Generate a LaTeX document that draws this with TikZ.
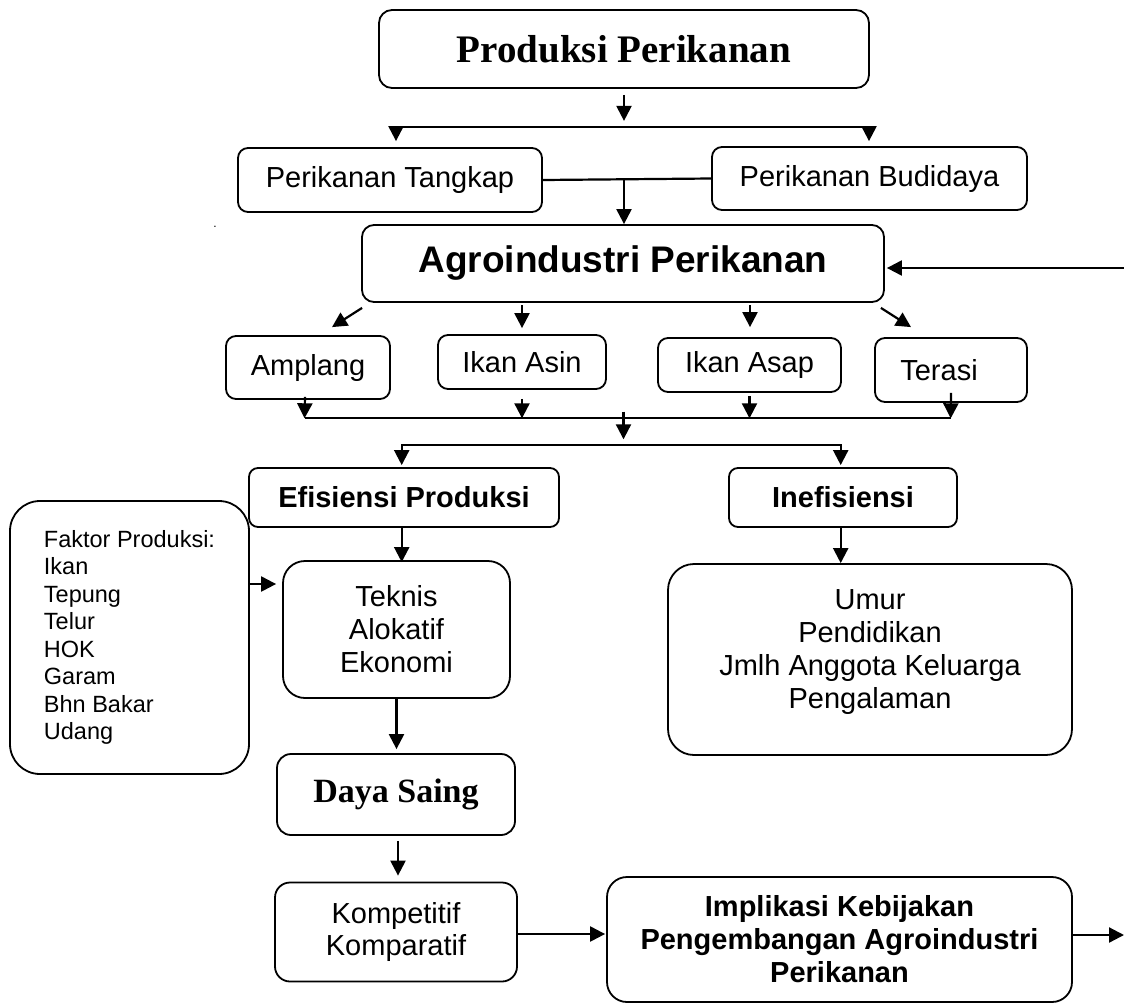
\documentclass[tikz,border=0pt]{standalone}
\usepackage{fontspec}
\setmainfont{Liberation Sans}
\newfontfamily\titlefont{Liberation Serif}
\usetikzlibrary{arrows.meta,calc}
\begin{document}
\begin{tikzpicture}[x=1pt,y=-1pt,
  box/.style={draw, line width=1.8pt, rounded corners=#1, inner sep=0pt, align=center,
    font=\fontsize{29}{33}\selectfont},
  box/.default=10pt,
  bbox/.style={box=#1, font=\fontsize{29}{33}\selectfont\bfseries},
  bbox/.default=10pt,
  tbox/.style={box=#1, font=\titlefont\fontsize{39}{44}\selectfont\bfseries},
  arr/.style={line width=2.2pt, -{Triangle[length=15pt,width=15pt]}},
  dbl/.style={line width=2.2pt, {Triangle[length=15pt,width=15pt]}-{Triangle[length=15pt,width=15pt]}},
  ln/.style={line width=2.2pt}]
\path[use as bounding box] (0,0) rectangle (1124,1004);

% ---- nodes ----
\node[tbox=13pt, minimum width=490pt, minimum height=78pt] (pp) at (624,49) {Produksi Perikanan};
\node[box, minimum width=304pt, minimum height=64pt] (pt) at (390,180) {Perikanan Tangkap};
\node[box, minimum width=315pt, minimum height=63pt] (pb) at (869.5,178.5) {Perikanan Budidaya};
\node[bbox=12pt, minimum width=522pt, minimum height=77pt, font=\fontsize{37}{40}\selectfont\bfseries] (agro) at (623,263.5) {Agroindustri Perikanan};
\node[font=\fontsize{12}{12}\selectfont, inner sep=0pt] (dot) at (215,227) {.};

\node[box, minimum width=164pt, minimum height=63pt] (amp) at (308,367.5) {Amplang};
\node[box, minimum width=168pt, minimum height=54pt] (ai) at (522,362) {Ikan Asin};
\node[box, minimum width=183pt, minimum height=54pt] (ias) at (749.5,365) {Ikan Asap};
\node[box, minimum width=152pt, minimum height=64pt] (ter) at (951,370) {\hspace*{-24pt}Terasi};

\node[bbox=9pt, minimum width=310pt, minimum height=59pt] (eff) at (404,497.5) {Efisiensi Produksi};
\node[bbox=9pt, minimum width=228pt, minimum height=59pt] (ineff) at (843,497.5) {Inefisiensi};

\node[box=30pt, minimum width=239pt, minimum height=273pt, align=left,
  font=\fontsize{23.5}{27.5}\selectfont] (fak) at (129.5,637.5)
  {Faktor Produksi:\\Ikan\\Tepung\\Telur\\HOK\\Garam\\Bhn Bakar\\Udang};
\node[box=22pt, minimum width=227pt, minimum height=137pt] (tek) at (396.5,629.5) {Teknis\\Alokatif\\Ekonomi};
\node[box=26pt, minimum width=404pt, minimum height=191pt] (umur) at (870,659.5)
  {Umur\\Pendidikan\\Jmlh Anggota Keluarga\\Pengalaman\\[-13pt]\mbox{}};

\node[tbox=14pt, minimum width=238pt, minimum height=81pt, font=\titlefont\fontsize{34}{38}\selectfont\bfseries] (ds) at (396,794.5) {Daya Saing};
\node[box=15pt, minimum width=242pt, minimum height=99pt, font=\fontsize{29}{32}\selectfont] (komp) at (396,932) {Kompetitif\\Komparatif};
\node[bbox=20pt, minimum width=465pt, minimum height=125pt] (impl) at (839.5,939.5)
  {Implikasi Kebijakan\\Pengembangan Agroindustri\\Perikanan};

% ---- coordinates ----
\coordinate (s1l) at (396,126.7);
\coordinate (s1r) at (869,126.7);
\coordinate (m1) at (624,179);
\coordinate (mL) at (304.5,418.3);
\coordinate (mR) at (950.7,418.3);
\coordinate (m2) at (623.5,411.7);
\coordinate (s2l) at (401.7,445);
\coordinate (s2r) at (840.7,445);
\coordinate (fk) at (249.3,584);
\coordinate (in) at (1124,268);
\coordinate (out) at (1124,935);

% ---- connectors ----
\draw[arr] ([yshift=-6pt]pp.south) -- ($(pp.south)+(0,32)$);
\draw[dbl] ($(s1l |- pt.north)+(0,-6)$) -- (s1l) -- (s1r) -- ($(s1r |- pb.north)+(0,-5)$);
\draw[ln] (pt.east) -- (pb.west);
\draw[arr] (m1) -- (m1 |- agro.north);
\draw[arr] (in) -- ($(agro.east |- in)+(2,0)$);

\draw[arr] ($(agro.south west)+(1,5)$) -- ($(amp.north)+(24,-8)$);
\draw[arr] ($(ai.north)+(0,-29)$) -- ($(ai.north)+(0,-6)$);
\draw[arr] ($(ias.north)+(0.5,-32)$) -- ($(ias.north)+(0.5,-10)$);
\draw[arr] ($(agro.south east)+(-4,5)$) -- ($(ter.north)+(-40,-10)$);

\draw[ln] (mL) -- (mR);
\draw[arr] ($(amp.south)+(-3,-3)$) -- (mL);
\draw[arr] ($(ai.south)+(0,9)$) -- (ai.south |- mL);
\draw[arr] ($(ias.south)+(0,3)$) -- (ias.south |- mL);
\draw[arr] ($(ter.south)+(0,-10)$) -- (mR);
\draw[arr] (m2) -- ++(0,27.6);

\draw[dbl] ($(s2l |- eff.north)+(0,-2)$) -- (s2l) -- (s2r) -- ($(s2r |- ineff.north)+(0,-2)$);
\draw[arr] (eff.south -| s2l) -- ($(tek.north -| s2l)+(0,2)$);
\draw[arr] (ineff.south -| s2r) -- (umur.north -| s2r);
\draw[arr] (fk) -- ($(tek.west |- fk)+(-6,0)$);
\draw[arr] (tek.south) -- ($(tek.south |- ds.north)+(0,-4)$);
\draw[arr] ($(ds.south)+(2,5)$) -- ($(komp.north)+(2,-6)$);
\draw[arr] ($(komp.east)+(0,2)$) -- ($(impl.west |- komp.east)+(-1,2)$);
\draw[arr] (impl.east |- out) -- (out);
\end{tikzpicture}
\end{document}
